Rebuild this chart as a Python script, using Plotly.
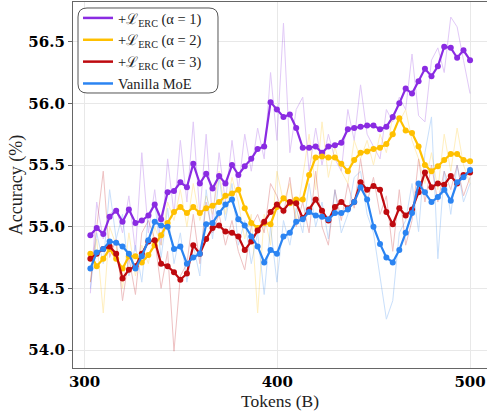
import plotly.graph_objects as go

tokens = [303.0, 306.3, 309.7, 313.0, 316.4, 319.7, 323.0, 326.4, 329.7, 333.1,
          336.4, 339.7, 343.1, 346.4, 349.7, 353.1, 356.4, 359.8, 363.1, 366.4,
          369.8, 373.1, 376.5, 379.8, 383.1, 386.5, 389.8, 393.2, 396.5, 399.8,
          403.2, 406.5, 409.8, 413.2, 416.5, 419.9, 423.2, 426.5, 429.9, 433.2,
          436.6, 439.9, 443.2, 446.6, 449.9, 453.3, 456.6, 459.9, 463.3, 466.6,
          469.9, 473.3, 476.6, 480.0, 483.3, 486.6, 490.0, 493.3, 496.6, 500.0]

erc1 = [54.93, 54.99, 54.94, 55.08, 55.13, 55.04, 55.14, 55.03, 55.05, 55.09,
        55.18, 55.06, 55.28, 55.29, 55.36, 55.32, 55.51, 55.35, 55.43, 55.31,
        55.41, 55.35, 55.50, 55.42, 55.49, 55.55, 55.63, 55.65, 56.01, 55.95,
        55.89, 55.91, 55.80, 55.64, 55.64, 55.65, 55.60, 55.65, 55.66, 55.68,
        55.79, 55.80, 55.81, 55.82, 55.82, 55.79, 55.81, 55.89, 56.00, 56.12,
        56.08, 56.18, 56.28, 56.22, 56.30, 56.46, 56.45, 56.37, 56.43, 56.35]
erc2 = [54.78, 54.68, 54.74, 54.82, 54.74, 54.66, 54.76, 54.76, 54.71, 54.77,
        54.85, 54.93, 55.03, 55.12, 55.16, 55.11, 55.16, 55.11, 55.15, 55.17,
        55.20, 55.25, 55.27, 55.30, 55.15, 55.03, 54.99, 55.03, 55.02, 55.16,
        55.23, 55.19, 55.22, 55.22, 55.42, 55.56, 55.57, 55.56, 55.56, 55.51,
        55.45, 55.54, 55.60, 55.61, 55.63, 55.64, 55.67, 55.75, 55.88, 55.78,
        55.76, 55.65, 55.50, 55.45, 55.49, 55.54, 55.59, 55.59, 55.54, 55.53]
erc3 = [54.74, 54.78, 54.82, 54.84, 54.78, 54.58, 54.65, 54.68, 54.78, 54.88,
        54.89, 54.70, 54.68, 54.63, 54.57, 54.62, 54.85, 54.78, 54.90, 54.99,
        55.01, 54.96, 54.95, 54.92, 54.81, 54.88, 54.97, 55.04, 55.12, 55.18,
        55.13, 55.20, 55.19, 55.07, 55.14, 55.22, 55.13, 55.05, 55.16, 55.20,
        55.15, 55.20, 55.36, 55.30, 55.33, 55.30, 55.12, 55.02, 55.15, 55.09,
        55.14, 55.28, 55.44, 55.32, 55.35, 55.34, 55.41, 55.35, 55.42, 55.44]
vanilla = [54.66, 54.79, 54.82, 54.88, 54.87, 54.84, 54.78, 54.66, 54.76, 54.89,
           55.04, 55.01, 55.00, 54.82, 54.84, 54.70, 54.75, 54.78, 55.02, 55.03,
           55.11, 55.18, 55.22, 55.06, 55.01, 54.92, 54.84, 54.71, 54.81, 54.78,
           54.92, 54.95, 55.04, 55.06, 55.12, 55.09, 55.08, 55.06, 55.11, 55.11,
           55.14, 55.20, 55.32, 55.22, 55.00, 54.86, 54.75, 54.71, 54.81, 54.95,
           55.11, 55.35, 55.28, 55.20, 55.24, 55.30, 55.21, 55.36, 55.40, 55.46]

erc1_raw = [54.46, 55.20, 54.90, 55.10, 55.15, 54.95, 55.25, 54.80, 55.60, 54.95,
            55.30, 54.85, 55.55, 55.10, 55.70, 55.20, 55.85, 55.10, 55.75, 55.05,
            55.60, 55.20, 55.70, 55.30, 55.75, 55.45, 55.80, 55.55, 56.25, 55.70,
            56.65, 55.60, 55.95, 56.05, 55.45, 55.80, 55.50, 55.75, 55.55, 55.45,
            55.95, 55.70, 56.15, 55.75, 55.65, 55.55, 55.95, 55.85, 56.05, 55.95,
            56.40, 55.90, 55.85, 56.35, 56.45, 56.25, 56.70, 56.62, 56.35, 56.08]
erc2_raw = [54.55, 54.90, 54.30, 55.00, 54.85, 54.50, 54.95, 54.60, 54.85, 54.70,
            55.00, 54.85, 55.20, 55.05, 55.30, 55.00, 55.35, 55.05, 55.25, 55.10,
            55.45, 55.10, 55.40, 55.20, 54.90, 55.10, 54.30, 55.10, 54.85, 55.45,
            55.20, 55.35, 55.05, 55.40, 55.75, 55.30, 55.85, 55.40, 55.65, 55.45,
            55.35, 55.70, 55.55, 55.70, 55.50, 55.75, 55.60, 55.90, 55.85, 55.95,
            55.70, 55.55, 55.35, 55.60, 55.30, 55.75, 55.45, 55.80, 55.50, 55.35]
erc3_raw = [54.55, 55.00, 55.45, 54.75, 54.90, 54.40, 54.75, 54.45, 54.95, 55.05,
            54.90, 54.50, 54.80, 53.99, 54.60, 54.70, 55.10, 54.70, 55.20, 54.95,
            55.10, 54.85, 55.05, 54.80, 54.65, 55.00, 55.10, 54.95, 55.35, 55.25,
            55.10, 55.40, 55.00, 55.20, 54.95, 55.45, 55.00, 54.85, 55.30, 55.05,
            55.35, 55.15, 55.55, 55.20, 55.40, 55.10, 55.25, 54.80, 55.30, 54.85,
            55.05, 55.55, 55.20, 55.50, 55.20, 55.45, 55.30, 55.50, 55.25, 55.40]
vanilla_raw = [54.50, 54.95, 54.70, 55.30, 54.90, 55.10, 54.60, 54.85, 54.55, 55.10,
               55.20, 54.75, 55.15, 54.70, 54.95, 54.55, 54.85, 54.60, 55.30, 54.90,
               55.40, 55.05, 55.35, 54.85, 55.05, 54.70, 54.95, 54.45, 55.00, 54.55,
               55.05, 54.85, 55.15, 54.95, 55.35, 55.00, 55.20, 54.90, 55.30, 54.95,
               55.10, 55.40, 55.45, 55.10, 54.95, 54.60, 54.25, 54.40, 54.95, 55.05,
               55.35, 54.96, 55.60, 55.89, 54.74, 55.45, 55.10, 55.50, 55.20, 55.35]

names = ["+ℒ<sub>ERC</sub> (α = 1)", "+ℒ<sub>ERC</sub> (α = 2)",
         "+ℒ<sub>ERC</sub> (α = 3)", "Vanilla MoE"]
colors = ["#8A2BE2", "#FFC000", "#BE0A0F", "#2B84F2"]
smooth = [erc1, erc2, erc3, vanilla]
raw = [erc1_raw, erc2_raw, erc3_raw, vanilla_raw]

W, H = 487, 416
ML, MR, MT, MB = 73, 0, 2, 48
PW, PH = W - ML - MR, H - MT - MB

fig = go.Figure()
for r, c in zip(raw, colors):
    fig.add_trace(go.Scatter(x=tokens, y=r, mode="lines", line=dict(color=c, width=1),
                             opacity=0.25, showlegend=False, hoverinfo="skip"))
for s, c in zip(smooth, colors):
    fig.add_trace(go.Scatter(x=tokens, y=s, mode="lines+markers",
                             line=dict(color=c, width=2.2),
                             marker=dict(size=6, color=c), showlegend=False))
for n, c in zip(names, colors):
    fig.add_trace(go.Scatter(x=[None], y=[None], mode="lines", name=n,
                             line=dict(color=c, width=2.5)))


def px2paper(px, py):
    return (px - ML) / PW, (H - MB - py) / PH


def rounded_rect(x0, y0, x1, y1, r):
    def P(x, y):
        a, b = px2paper(x, y)
        return f"{a:.5f},{b:.5f}"
    return (f"M {P(x0 + r, y0)} L {P(x1 - r, y0)} Q {P(x1, y0)} {P(x1, y0 + r)} "
            f"L {P(x1, y1 - r)} Q {P(x1, y1)} {P(x1 - r, y1)} "
            f"L {P(x0 + r, y1)} Q {P(x0, y1)} {P(x0, y1 - r)} "
            f"L {P(x0, y0 + r)} Q {P(x0, y0)} {P(x0 + r, y0)} Z")


fig.add_shape(type="path", xref="paper", yref="paper",
              path=rounded_rect(78, 8, 218, 93, 9),
              line=dict(color="#555555", width=1), fillcolor="white", layer="above")

tx, ty = px2paper(280, 401)
fig.add_annotation(text="Tokens (B)", xref="paper", yref="paper", x=0.5, y=ty,
                   xanchor="center", yanchor="middle", showarrow=False,
                   font=dict(family="Liberation Serif", size=17.5, color="#222"))

lx, ly = px2paper(78, 2)
fig.update_layout(
    width=W, height=H,
    margin=dict(l=ML, r=MR, t=MT, b=MB, pad=0),
    paper_bgcolor="white", plot_bgcolor="white",
    showlegend=True,
    legend=dict(x=lx, y=ly, xanchor="left", yanchor="top",
                bgcolor="rgba(0,0,0,0)", borderwidth=0,
                font=dict(family="Liberation Serif", size=14.5, color="#222"),
                tracegroupgap=0, itemwidth=30),
    xaxis=dict(range=[294.0, 508.8], tickvals=[300, 400, 500], automargin=False,
               showgrid=True, gridcolor="#e8e8e8", gridwidth=1, zeroline=False,
               showline=True, linecolor="#666", linewidth=1.2, mirror=True,
               ticks="",
               tickfont=dict(family="DejaVu Serif", size=15, color="black", weight="bold")),
    yaxis=dict(range=[53.854, 56.822], tickvals=[54.0, 54.5, 55.0, 55.5, 56.0, 56.5],
               ticktext=["54.0", "54.5", "55.0", "55.5", "56.0", "56.5"], automargin=False,
               showgrid=True, gridcolor="#e8e8e8", gridwidth=1, zeroline=False,
               showline=True, linecolor="#666", linewidth=1.2,
               ticks="outside", ticklen=4, tickcolor="#666",
               tickfont=dict(family="DejaVu Serif", size=15, color="black", weight="bold"),
               title=dict(text="Accuracy (%)", standoff=1,
                          font=dict(family="Liberation Serif", size=18, color="#222"))),
)

fig.write_html("out.html", config={"displayModeBar": False},
               post_script="document.body.style.margin='0';")
